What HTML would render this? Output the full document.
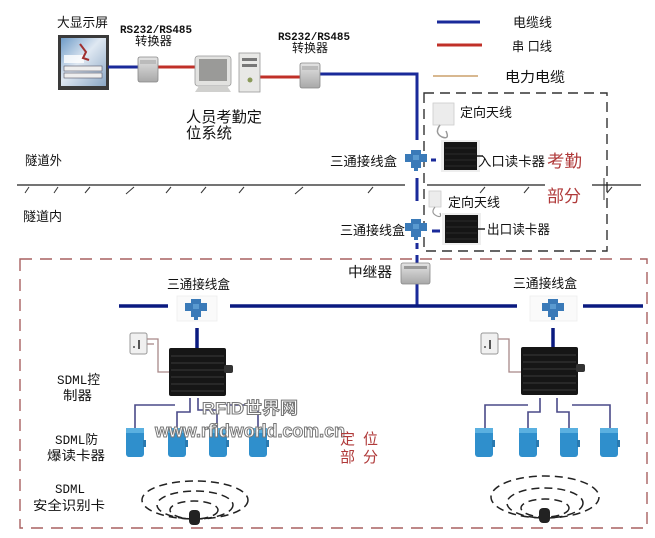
<!DOCTYPE html>
<html><head><meta charset="utf-8"><style>
html,body{margin:0;padding:0;background:#fff;}
svg{display:block;}
text{font-family:"Liberation Sans","Noto Sans CJK SC",sans-serif;}
.cn{font-family:"Liberation Sans","Noto Sans CJK SC",sans-serif;fill:#111;}
.mono{font-family:"Liberation Mono","Noto Sans CJK SC",monospace;fill:#111;}
.red{fill:#b03a3a;font-family:"Liberation Sans","Noto Sans CJK SC",sans-serif;}
</style></head><body>
<svg width="655" height="538" viewBox="0 0 655 538" xmlns="http://www.w3.org/2000/svg">
<defs>
<linearGradient id="scr" x1="0" y1="0" x2="1" y2="1"><stop offset="0" stop-color="#6f9cc8"/><stop offset="0.45" stop-color="#dfe8f2"/><stop offset="1" stop-color="#8aa6c4"/></linearGradient>
<linearGradient id="gray" x1="0" y1="0" x2="0" y2="1"><stop offset="0" stop-color="#e4e4e4"/><stop offset="1" stop-color="#a8a8a8"/></linearGradient>
<g id="junc"><path d="M-5,-9 h10 v4 h6 v8 h-6 v6 h-3 v3 h-4 v-3 h-3 v-6 h-6 v-8 h6z" fill="#3a7ab8"/><rect x="-3" y="-4" width="6" height="5" fill="#5a9ad0"/></g>
<g id="breader"><rect x="-9" y="-14" width="18" height="29" rx="3" fill="#2f8fcc"/><rect x="-9" y="-14" width="18" height="5" fill="#5ab0e0"/><rect x="8" y="-2" width="3" height="7" fill="#2a7ab0"/></g>
<g id="ctrl"><rect x="0" y="0" width="57" height="48" rx="2" fill="#161616"/>
<g stroke="#3a3a3a" stroke-width="1"><line x1="2" y1="8" x2="55" y2="8"/><line x1="2" y1="15" x2="55" y2="15"/><line x1="2" y1="22" x2="55" y2="22"/><line x1="2" y1="29" x2="55" y2="29"/><line x1="2" y1="36" x2="55" y2="36"/><line x1="2" y1="43" x2="55" y2="43"/></g>
<rect x="55" y="17" width="9" height="8" rx="2" fill="#333"/></g>
<g id="smant"><rect x="0" y="0" width="17" height="21" rx="2" fill="#f0f0f0" stroke="#999" stroke-width="1"/><rect x="8" y="7" width="2" height="9" fill="#555"/><rect x="3" y="13" width="2" height="2" fill="#777"/></g>
<g id="conv"><rect x="0" y="0" width="20" height="25" rx="2" fill="url(#gray)" stroke="#888" stroke-width="0.8"/><rect x="2" y="3" width="16" height="4" fill="#bbb"/></g>
</defs>

<!-- top labels -->
<text x="57" y="27" class="cn" font-size="13" textLength="51" lengthAdjust="spacingAndGlyphs">大显示屏</text>
<text x="120" y="33" class="mono" font-size="11" font-weight="bold" textLength="72" lengthAdjust="spacingAndGlyphs">RS232/RS485</text>
<text x="135" y="45" class="cn" font-size="12" textLength="37" lengthAdjust="spacingAndGlyphs">转换器</text>
<text x="278" y="40" class="mono" font-size="11" font-weight="bold" textLength="72" lengthAdjust="spacingAndGlyphs">RS232/RS485</text>
<text x="292" y="52" class="cn" font-size="12" textLength="36" lengthAdjust="spacingAndGlyphs">转换器</text>
<text x="186" y="122" class="cn" font-size="15" textLength="76" lengthAdjust="spacingAndGlyphs">人员考勤定</text>
<text x="186" y="138" class="cn" font-size="15" textLength="46" lengthAdjust="spacingAndGlyphs">位系统</text>

<!-- big display -->
<rect x="58" y="35" width="51" height="55" fill="#3a3a3a"/>
<rect x="61" y="38" width="45" height="48" fill="url(#scr)"/>
<rect x="64" y="66" width="38" height="5" fill="#eee" stroke="#556" stroke-width="0.6"/>
<rect x="64" y="73" width="38" height="5" fill="#eee" stroke="#556" stroke-width="0.6"/>
<rect x="64" y="55" width="20" height="8" fill="#fff" opacity="0.8"/>
<path d="M80,44 l6,8 l-3,6 l6,2" stroke="#a03030" stroke-width="2" fill="none"/>

<!-- wires top -->
<line x1="108" y1="67" x2="139" y2="67" stroke="#1a2a9a" stroke-width="3"/>
<line x1="157" y1="67" x2="197" y2="67" stroke="#c03028" stroke-width="3"/>
<line x1="260" y1="77" x2="301" y2="77" stroke="#c03028" stroke-width="3"/>
<polyline points="320,74 417,74 417,140" stroke="#1a2a9a" stroke-width="3" fill="none"/>
<use href="#conv" x="138" y="57"/>
<use href="#conv" x="300" y="63"/>
<!-- CRT -->
<rect x="195" y="56" width="36" height="30" rx="3" fill="#e2e2e0" stroke="#999" stroke-width="0.8"/>
<rect x="199" y="59" width="28" height="22" fill="#9a9a98"/>
<path d="M199,86 h28 l4,6 h-36z" fill="#d0d0ce"/>
<!-- tower -->
<rect x="239" y="53" width="21" height="39" fill="#e8e8e6" stroke="#999" stroke-width="0.8"/>
<rect x="242" y="58" width="15" height="3" fill="#777"/><rect x="242" y="64" width="15" height="3" fill="#777"/>
<circle cx="250" cy="80" r="2.5" fill="#8a9a5a"/>

<!-- legend -->
<line x1="437" y1="22" x2="480" y2="22" stroke="#1a2a9a" stroke-width="3"/>
<text x="513" y="27" class="cn" font-size="13" textLength="39" lengthAdjust="spacingAndGlyphs">电缆线</text>
<line x1="437" y1="45" x2="482" y2="45" stroke="#c03028" stroke-width="3"/>
<text x="512" y="51" class="cn" font-size="13" textLength="40" lengthAdjust="spacingAndGlyphs">串 口线</text>
<line x1="433" y1="76" x2="478" y2="76" stroke="#d8b890" stroke-width="2"/>
<text x="505" y="82" class="cn" font-size="14" textLength="60" lengthAdjust="spacingAndGlyphs">电力电缆</text>

<!-- attendance dashed box -->
<rect x="424" y="93" width="183" height="158" fill="none" stroke="#333" stroke-width="1.4" stroke-dasharray="10,6"/>

<!-- ground line -->
<g stroke="#222" stroke-width="1.3">
<line x1="17" y1="185" x2="405" y2="185"/>
<line x1="427" y1="185" x2="545" y2="185"/>
<line x1="592" y1="185" x2="641" y2="185"/>
</g>
<g stroke="#333" stroke-width="1">
<line x1="25" y1="193" x2="29" y2="187"/><line x1="54" y1="193" x2="58" y2="187"/><line x1="85" y1="193" x2="90" y2="187"/>
<line x1="126" y1="194" x2="134" y2="187"/><line x1="166" y1="193" x2="171" y2="187"/><line x1="201" y1="193" x2="206" y2="187"/>
<line x1="239" y1="193" x2="244" y2="187"/><line x1="295" y1="194" x2="303" y2="187"/><line x1="368" y1="193" x2="373" y2="187"/>
<line x1="480" y1="193" x2="485" y2="187"/><line x1="524" y1="193" x2="529" y2="187"/><line x1="607" y1="193" x2="612" y2="187"/>
<line x1="604" y1="178" x2="604" y2="200"/>
</g>
<text x="25" y="165" class="cn" font-size="13" textLength="37" lengthAdjust="spacingAndGlyphs">隧道外</text>
<text x="23" y="221" class="cn" font-size="13" textLength="39" lengthAdjust="spacingAndGlyphs">隧道内</text>

<!-- vertical trunk -->
<g stroke="#1a2a9a" stroke-width="3">
<line x1="417" y1="178" x2="417" y2="201"/>
<line x1="417" y1="243" x2="417" y2="249"/>
<line x1="417" y1="255" x2="417" y2="263"/>
<line x1="417" y1="283" x2="417" y2="306"/>
<line x1="431" y1="160" x2="436" y2="160"/>
<line x1="432" y1="231" x2="440" y2="231"/>
</g>
<use href="#junc" x="416" y="159"/>
<use href="#junc" x="416" y="228"/>
<text x="330" y="166" class="cn" font-size="13" textLength="67" lengthAdjust="spacingAndGlyphs">三通接线盒</text>
<text x="340" y="235" class="cn" font-size="13" textLength="65" lengthAdjust="spacingAndGlyphs">三通接线盒</text>

<!-- antennas and readers in attendance box -->
<rect x="433" y="103" width="21" height="22" fill="#ececec" stroke="#ccc" stroke-width="0.8"/>
<path d="M440,125 q-6,8 2,12 q8,3 4,-6" stroke="#999" stroke-width="1.5" fill="none"/>
<text x="460" y="117" class="cn" font-size="13" textLength="52" lengthAdjust="spacingAndGlyphs">定向天线</text>
<rect x="441" y="140" width="39" height="32" fill="#eee"/>
<rect x="444" y="142" width="33" height="28" fill="#151515"/>
<g stroke="#333" stroke-width="0.8"><line x1="445" y1="148" x2="476" y2="148"/><line x1="445" y1="154" x2="476" y2="154"/><line x1="445" y1="160" x2="476" y2="160"/><line x1="445" y1="166" x2="476" y2="166"/></g>
<line x1="477" y1="156" x2="483" y2="156" stroke="#222" stroke-width="1.5"/>
<text x="478" y="166" class="cn" font-size="13" textLength="67" lengthAdjust="spacingAndGlyphs">入口读卡器</text>
<text x="547" y="167" class="red" font-size="17" textLength="35" lengthAdjust="spacingAndGlyphs">考勤</text>
<text x="547" y="202" class="red" font-size="17" textLength="34" lengthAdjust="spacingAndGlyphs">部分</text>

<rect x="429" y="191" width="12" height="16" fill="#ececec" stroke="#ccc" stroke-width="0.8"/>
<path d="M435,207 q-5,6 2,9 q5,2 3,-3" stroke="#999" stroke-width="1.2" fill="none"/>
<text x="448" y="207" class="cn" font-size="13" textLength="52" lengthAdjust="spacingAndGlyphs">定向天线</text>
<rect x="442" y="213" width="39" height="32" fill="#eee"/>
<rect x="445" y="215" width="33" height="28" fill="#151515"/>
<g stroke="#333" stroke-width="0.8"><line x1="446" y1="221" x2="477" y2="221"/><line x1="446" y1="227" x2="477" y2="227"/><line x1="446" y1="233" x2="477" y2="233"/><line x1="446" y1="239" x2="477" y2="239"/></g>
<line x1="478" y1="229" x2="485" y2="229" stroke="#222" stroke-width="1.5"/>
<text x="487" y="234" class="cn" font-size="13" textLength="63" lengthAdjust="spacingAndGlyphs">出口读卡器</text>

<!-- positioning dashed box -->
<rect x="20" y="259" width="627" height="269" fill="none" stroke="#a86060" stroke-width="1.4" stroke-dasharray="12,8"/>

<!-- repeater -->
<text x="348" y="277" class="cn" font-size="14" textLength="44" lengthAdjust="spacingAndGlyphs">中继器</text>
<rect x="401" y="263" width="29" height="21" rx="2" fill="url(#gray)" stroke="#888" stroke-width="0.8"/>
<rect x="404" y="266" width="23" height="3" fill="#999"/>

<!-- main bus -->
<g stroke="#0a1a80" stroke-width="3.5">
<line x1="119" y1="306" x2="168" y2="306"/>
<line x1="230" y1="306" x2="517" y2="306"/>
<line x1="583" y1="306" x2="643" y2="306"/>
<line x1="197" y1="328" x2="197" y2="348"/>
<line x1="553" y1="328" x2="553" y2="348"/>
</g>
<rect x="177" y="296" width="40" height="25" fill="#fafafa" stroke="#eee" stroke-width="0.8"/>
<use href="#junc" x="196" y="308"/>
<rect x="530" y="296" width="47" height="25" fill="#fafafa" stroke="#eee" stroke-width="0.8"/>
<use href="#junc" x="553" y="308"/>
<text x="167" y="289" class="cn" font-size="13" textLength="63" lengthAdjust="spacingAndGlyphs">三通接线盒</text>
<text x="513" y="288" class="cn" font-size="13" textLength="64" lengthAdjust="spacingAndGlyphs">三通接线盒</text>

<!-- left controller -->
<use href="#smant" x="130" y="333"/>
<polyline points="147,339 158,339 158,372 169,372" stroke="#a88888" stroke-width="1.3" fill="none"/>
<polyline points="147,344 154,344" stroke="#a88888" stroke-width="1.3" fill="none"/>
<use href="#ctrl" x="169" y="348"/>
<g stroke="#4a4a88" stroke-width="1.6" fill="none">
<polyline points="175,405 135,405 135,428"/>
<polyline points="190,398 190,412 177,412 177,428"/>
<polyline points="198,398 198,410 217,410 217,428"/>
<polyline points="226,405 258,405 258,428"/>
</g>
<use href="#breader" x="135" y="442"/>
<use href="#breader" x="177" y="442"/>
<use href="#breader" x="218" y="442"/>
<use href="#breader" x="258" y="442"/>

<!-- right controller -->
<use href="#smant" x="481" y="333"/>
<polyline points="498,339 509,339 509,372 522,372" stroke="#a88888" stroke-width="1.3" fill="none"/>
<use href="#ctrl" x="521" y="347"/>
<g stroke="#4a4a88" stroke-width="1.6" fill="none">
<polyline points="528,405 485,405 485,428"/>
<polyline points="540,398 540,412 528,412 528,428"/>
<polyline points="557,398 557,412 569,412 569,428"/>
<polyline points="572,405 610,405 610,428"/>
</g>
<use href="#breader" x="484" y="442"/>
<use href="#breader" x="528" y="442"/>
<use href="#breader" x="569" y="442"/>
<use href="#breader" x="609" y="442"/>

<!-- side labels -->
<text x="57" y="384" class="mono" font-size="13" textLength="43" lengthAdjust="spacingAndGlyphs">SDML控</text>
<text x="63" y="400" class="cn" font-size="13" textLength="29" lengthAdjust="spacingAndGlyphs">制器</text>
<text x="55" y="444" class="mono" font-size="13" textLength="43" lengthAdjust="spacingAndGlyphs">SDML防</text>
<text x="47" y="460" class="cn" font-size="13" textLength="58" lengthAdjust="spacingAndGlyphs">爆读卡器</text>
<text x="55" y="493" class="mono" font-size="13" textLength="30" lengthAdjust="spacingAndGlyphs">SDML</text>
<text x="33" y="510" class="cn" font-size="13" textLength="72" lengthAdjust="spacingAndGlyphs">安全识别卡</text>

<!-- ellipses -->
<g fill="none" stroke="#222" stroke-width="1.5" stroke-dasharray="8,5">
<ellipse cx="195" cy="500" rx="53" ry="19"/>
<ellipse cx="195" cy="505" rx="38" ry="14"/>
<ellipse cx="194" cy="510" rx="24" ry="9"/>
<ellipse cx="545" cy="497" rx="54" ry="21"/>
<ellipse cx="545" cy="503" rx="38" ry="15"/>
<ellipse cx="545" cy="508" rx="24" ry="9"/>
</g>
<rect x="189" y="510" width="11" height="15" rx="4" fill="#222"/>
<rect x="539" y="508" width="11" height="15" rx="4" fill="#222"/>

<!-- watermark -->
<text x="202" y="414" font-size="17" fill="#fff" stroke="#777" stroke-width="1" font-weight="bold" textLength="96" lengthAdjust="spacingAndGlyphs">RFID世界网</text>
<text x="155" y="437" font-size="18" fill="#fff" stroke="#777" stroke-width="1" font-weight="bold" textLength="190" lengthAdjust="spacingAndGlyphs">www.rfidworld.com.cn</text>

<text x="340" y="444" class="red" font-size="15">定</text>
<text x="363" y="444" class="red" font-size="15">位</text>
<text x="340" y="462" class="red" font-size="15">部</text>
<text x="363" y="462" class="red" font-size="15">分</text>
</svg>
</body></html>
